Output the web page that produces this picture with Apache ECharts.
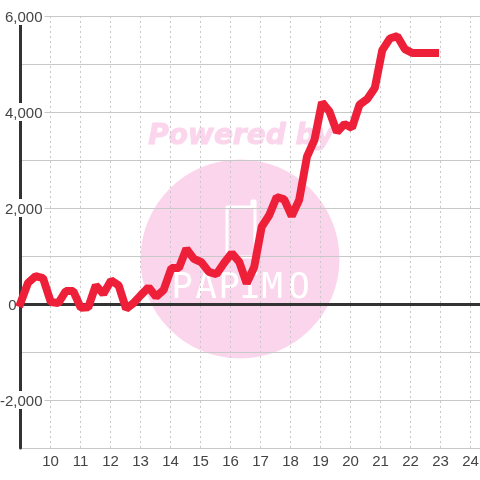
<!DOCTYPE html>
<html><head><meta charset="utf-8">
<style>html,body{margin:0;padding:0;background:#fff}#c{width:480px;height:480px}</style>
<script src="https://cdn.jsdelivr.net/npm/echarts@6/dist/echarts.min.js"></script>
</head><body><div id="c"></div>
<script>
const years=[9.00,9.25,9.50,9.75,10.01,10.26,10.51,10.76,11.01,11.26,11.51,11.76,12.02,12.27,12.52,12.77,13.02,13.27,13.52,13.77,14.03,14.28,14.53,14.78,15.03,15.28,15.53,15.78,16.04,16.29,16.54,16.79,17.04,17.29,17.54,17.79,18.04,18.29,18.55,18.80,19.05,19.30,19.55,19.80,20.05,20.30,20.56,20.81,21.06,21.31,21.56,21.81,22.06,22.31,22.57,22.82];
const values=[20,440,580,540,40,20,270,270,-80,-70,390,210,490,390,-100,20,190,350,150,290,750,750,1150,940,870,670,620,850,1060,880,430,770,1610,1850,2230,2180,1830,2170,3070,3420,4200,4010,3580,3750,3670,4150,4270,4500,5290,5530,5580,5310,5230,5230,5230,5230];
const logoLetters=['P','A','P','I','M','O'];
const logoX=[182,206,229,250,272,299];
const pink='#fbd5ec';
const chart=echarts.init(document.getElementById('c'),null,{renderer:'canvas'});
const labelColor='#444';
chart.setOption({
 animation:false,
 backgroundColor:'#fff',
 grid:{left:20.5,right:0,top:16,height:432,outerBoundsMode:'none'},
 graphic:[
  {type:'circle',z:-10,silent:true,shape:{cx:240,cy:259,r:99.5},style:{fill:pink}},
  {type:'text',z:-10,silent:true,x:241,y:137,style:{text:'Powered by',fontFamily:'DejaVu Sans',fontWeight:'bold',fontStyle:'italic',fontSize:28,fill:pink,stroke:pink,lineWidth:1,align:'center',verticalAlign:'middle'}},
  {type:'polygon',z:-9,silent:true,shape:{points:[[227,207],[252,207],[252,201],[255,201],[255,257],[227,257]]},style:{stroke:'#fff',fill:null,lineWidth:3,lineJoin:'round'}},
  ...logoLetters.map((t,i)=>({type:'text',z:-9,silent:true,x:logoX[i],y:289,style:{text:t,fontFamily:'DejaVu Sans Mono',fontSize:36,fill:'#fff',align:'center',verticalAlign:'middle'}}))
 ],
 xAxis:[{
  type:'value',min:9,max:24.317,interval:1,position:'bottom',
  axisLine:{show:false,onZero:false},axisTick:{show:false},
  axisLabel:{margin:6,fontFamily:'Liberation Sans',fontSize:15,color:labelColor,showMinLabel:false,showMaxLabel:false,formatter:v=>String(v)},
  splitLine:{show:true,lineStyle:{color:'#c8c8c8',width:1,type:[2,3]}}
 },{
  type:'value',min:9,max:24.317,interval:1,position:'bottom',
  axisLine:{show:true,onZero:true,lineStyle:{color:'#333',width:3}},axisTick:{show:false},axisLabel:{show:false},splitLine:{show:false}
 }],
 yAxis:{
  type:'value',min:-3000,max:6000,interval:1000,
  axisLine:{show:true,lineStyle:{color:'#333',width:3}},axisTick:{show:false},
  splitLine:{show:true,lineStyle:{color:'#c8c8c8',width:1}},
  axisLabel:{margin:-24,align:'right',fontFamily:'Liberation Sans',fontSize:15,color:labelColor,
   rich:{
    n:{fontFamily:'Liberation Sans',fontSize:15,color:labelColor,backgroundColor:'#fff',padding:[3,2,0,4],lineHeight:14},
    z:{fontFamily:'Liberation Sans',fontSize:15,color:labelColor,padding:[3,28,0,0],lineHeight:14}
   },
   formatter:v=>{
    if(v%2000!==0)return '';
    if(v===0)return '{z|0}';
    return '{n|'+v.toLocaleString('en-US')+'}';
   }}
 },
 series:[{type:'line',xAxisIndex:0,data:years.map((x,i)=>[x,values[i]]),showSymbol:false,symbol:'none',
  lineStyle:{color:'#ee2039',width:8,cap:'square',join:'bevel'},z:5}]
});
</script></body></html>
